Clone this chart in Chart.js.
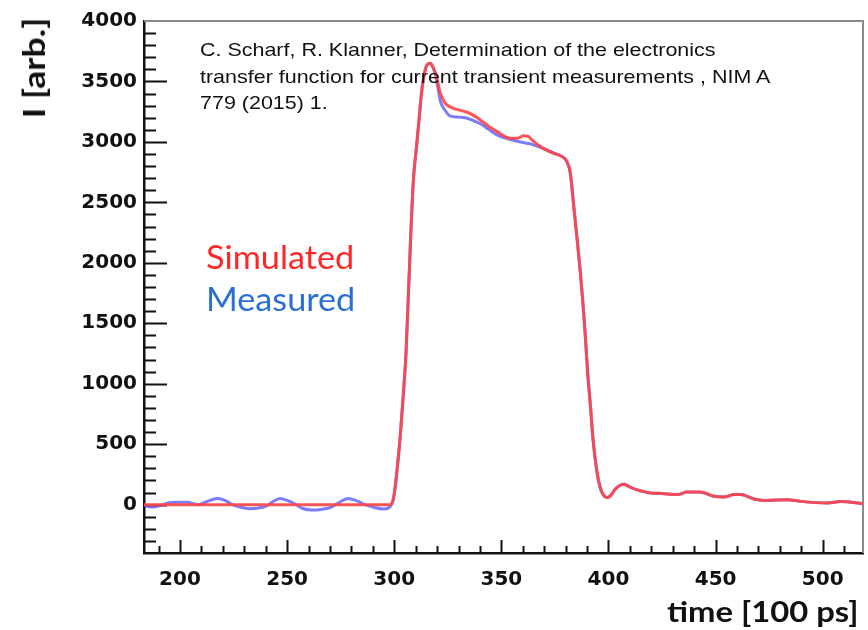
<!DOCTYPE html>
<html>
<head>
<meta charset="utf-8">
<script src="https://cdn.jsdelivr.net/npm/chart.js@4.4.1/dist/chart.umd.min.js"></script>
<style>
  body { margin: 0; background: #fff; }
  #wrap { position: relative; width: 868px; height: 630px; }
  .txt { position: absolute; white-space: nowrap; }
  #cite { left: 200px; top: 37px; font: 19px "Liberation Sans", Arial, sans-serif; line-height: 26.5px; color: #111;
          transform: scaleX(1.13); transform-origin: left top; }
  #legSim { left: 206px; top: 237px; font: 32px Lato, sans-serif; color: #ff2626;
            transform: scaleX(1.07); transform-origin: left top; }
  #legMeas { left: 206px; top: 279px; font: 32px Lato, sans-serif; color: #2a6fd4;
             transform: scaleX(1.07); transform-origin: left top; }
  #xTitle { right: 9px; top: 593px; font: bold 29px Lato, sans-serif; color: #111;
            transform: scaleX(1.13); transform-origin: right top; }
  #yTitle { left: 33px; top: 68px; font: bold 31px Lato, sans-serif; color: #111;
            transform: translate(-50%, -50%) rotate(-90deg) scaleX(1.15); }
</style>
</head>
<body>
<div id="wrap">
  <canvas id="chart" width="868" height="630"></canvas>
  <div id="cite" class="txt">C. Scharf, R. Klanner, Determination of the electronics<br>transfer function for current transient measurements , NIM A<br>779 (2015) 1.</div>
  <div id="legSim" class="txt">Simulated</div>
  <div id="legMeas" class="txt">Measured</div>
  <div id="xTitle" class="txt">time [100 ps]</div>
  <div id="yTitle" class="txt">I [arb.]</div>
</div>
<script>
// values (time in units of 100 ps)
const simTime = [183.2, 298, 299.5, 300.5, 301.5, 302.8, 304.3, 305.5, 306.7, 307.8, 309.0, 310.4, 311.4, 312.9, 314.5, 315.3, 316.8, 318, 319.2, 320.5, 321.5, 323.8, 327.7, 333.2, 336, 340.2, 344, 348, 354.2, 357.5, 360.4, 362.5, 364.3, 368.2, 374.4, 378.4, 380.5, 382.2, 383.8, 385.4, 386.9, 388.2, 389.3, 390.3, 391.6, 392.8, 394.7, 396, 397.1, 399.4, 401, 403, 405.5, 407.1, 409, 412, 415, 419.6, 425, 432.1, 436.8, 443, 449.2, 453.9, 458.6, 461.7, 467.9, 472.6, 483.5, 489.7, 502.2, 508.4, 518.8];
const simValues = [0, 0, 40, 151, 320, 565, 925, 1256, 1780, 2270, 2700, 2960, 3150, 3430, 3600, 3636, 3650, 3620, 3568, 3480, 3402, 3320, 3278, 3250, 3230, 3182, 3130, 3085, 3030, 3030, 3050, 3045, 3017, 2961, 2906, 2878, 2840, 2741, 2466, 2190, 1915, 1639, 1364, 1088, 812, 537, 262, 150, 96, 58, 75, 125, 160, 168, 155, 130, 115, 97, 92, 83, 105, 105, 69, 63, 83, 83, 47, 35, 41, 27, 14, 25, 8];

const measTime = [183.2, 185, 187.4, 189.5, 192, 195, 198, 204, 206, 208.4, 211, 214, 217.8, 221, 224, 228, 232.7, 236, 240, 243, 246.7, 250, 253.7, 257, 261.7, 266, 270, 274, 278.5, 282, 286.4, 290, 294.9, 297.5, 299.5, 300.5, 301.5, 302.8, 304.3, 305.5, 306.7, 307.8, 309.0, 310.4, 311.4, 312.9, 314.5, 315.3, 316.8, 318, 319.2, 320.5, 321.5, 323.8, 326, 330, 333.2, 337, 340.2, 344, 348, 354.2, 360, 364.3, 368.2, 374.4, 378.4, 380.5, 382.2, 383.8, 385.4, 386.9, 388.2, 389.3, 390.3, 391.6, 392.8, 394.7, 396, 397.1, 399.4, 401, 403, 405.5, 407.1, 409, 412, 415, 419.6, 425, 432.1, 436.8, 443, 449.2, 453.9, 458.6, 461.7, 467.9, 472.6, 483.5, 489.7, 502.2, 508.4, 518.8];
const measValues = [-5, -15, -20, -12, 0, 15, 20, 20, 8, 0, 15, 35, 50, 35, 5, -20, -33, -30, -15, 20, 50, 35, 5, -30, -45, -40, -25, 15, 50, 35, 0, -20, -36, -25, 40, 151, 320, 565, 925, 1256, 1780, 2270, 2700, 2960, 3150, 3430, 3600, 3636, 3650, 3620, 3560, 3440, 3340, 3260, 3215, 3205, 3200, 3175, 3150, 3105, 3058, 3020, 2995, 2980, 2955, 2910, 2878, 2840, 2741, 2466, 2190, 1915, 1639, 1364, 1088, 812, 537, 262, 150, 96, 58, 75, 125, 160, 168, 155, 130, 115, 97, 92, 83, 105, 102, 69, 63, 83, 83, 47, 35, 41, 27, 14, 25, 8];

const xTickLabels = [200, 250, 300, 350, 400, 450, 500];
const yTickLabels = [0, 500, 1000, 1500, 2000, 2500, 3000, 3500, 4000];
const xMin = 183.2, xMax = 518.8;
const yMin = -400, yMax = 4000;

const toPoints = (xs, ys) => xs.map((x, i) => ({x: x, y: ys[i]}));

// ROOT style inward ticks + thin frame on top/right
const frameTicks = {
    id: 'frameTicks',
    beforeDatasetsDraw(chart) {
        const ctx = chart.ctx;
        const a = chart.chartArea;
        const xs = chart.scales.x, ys = chart.scales.y;
        ctx.save();
        ctx.strokeStyle = '#8a8a8a';
        ctx.lineWidth = 2;
        ctx.beginPath();
        ctx.moveTo(a.left, a.top);
        ctx.lineTo(a.right, a.top);
        ctx.lineTo(a.right, a.bottom);
        ctx.stroke();
        ctx.strokeStyle = '#111';
        ctx.lineWidth = 2;
        ctx.beginPath();
        for (let v = 190; v <= 510; v += 10) {
            const px = Math.round(xs.getPixelForValue(v)) + 0.5;
            const len = v % 50 === 0 ? 13 : 7;
            ctx.moveTo(px, a.bottom);
            ctx.lineTo(px, a.bottom - len);
        }
        for (let v = -300; v <= 3900; v += 100) {
            const py = Math.round(ys.getPixelForValue(v)) + 0.5;
            const len = v % 500 === 0 ? 23 : 12;
            ctx.moveTo(a.left, py);
            ctx.lineTo(a.left + len, py);
        }
        ctx.stroke();
        ctx.restore();
    }
};

new Chart("chart", {
    type: 'line',
    data: {
        datasets: [{
            label: 'Simulated',
            data: toPoints(simTime, simValues),
            borderColor: 'rgba(255,70,70,0.92)',
            borderWidth: 3,
            pointRadius: 0,
            fill: false,
            cubicInterpolationMode: 'monotone',
            order: 0
        }, {
            label: 'Measured',
            data: toPoints(measTime, measValues),
            borderColor: 'rgba(80,80,255,0.75)',
            borderWidth: 3,
            pointRadius: 0,
            fill: false,
            cubicInterpolationMode: 'monotone',
            order: 1
        }]
    },
    options: {
        responsive: false,
        animation: false,
        layout: {padding: {top: 21, right: 5, left: 0, bottom: 0}},
        plugins: {legend: {display: false}, tooltip: {enabled: false}},
        scales: {
            x: {
                type: 'linear',
                min: xMin,
                max: xMax,
                afterBuildTicks: (s) => { s.ticks = xTickLabels.map(v => ({value: v})); },
                afterFit: (s) => { s.height = 77; },
                grid: {display: false, drawTicks: false},
                border: {display: true, color: '#111', width: 2.5},
                ticks: {
                    padding: 15,
                    color: '#111',
                    font: {family: 'DejaVu Sans', size: 20, weight: 'bold'},
                    maxRotation: 0,
                    callback: (v) => String(v)
                }
            },
            y: {
                min: yMin,
                max: yMax,
                afterBuildTicks: (s) => { s.ticks = yTickLabels.map(v => ({value: v})); },
                afterFit: (s) => { s.width = 144; },
                grid: {display: false, drawTicks: false},
                border: {display: true, color: '#111', width: 2.5},
                ticks: {
                    padding: 7,
                    color: '#111',
                    font: {family: 'DejaVu Sans', size: 20, weight: 'bold'},
                    callback: (v) => String(v)
                }
            }
        }
    },
    plugins: [frameTicks]
});
</script>
</body>
</html>
